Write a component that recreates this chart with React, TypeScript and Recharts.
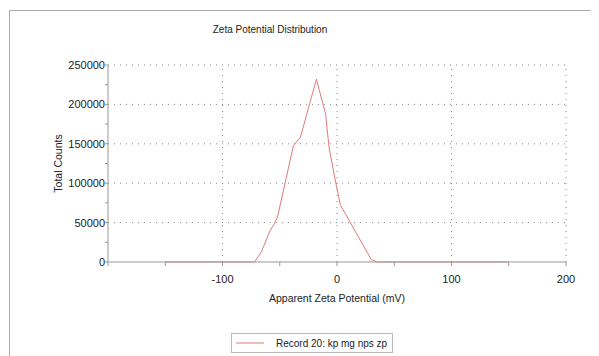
import { Legend, Line, LineChart, ReferenceLine, XAxis, YAxis } from 'recharts';

// apparent zeta potential (mV) and total counts
const potential = [-150, -72, -66, -59, -55, -52, -38, -32, -18, -10, -7, -1, 3, 7, 30, 35, 150];
const counts = [0, 0, 13000, 38000, 48000, 57000, 148000, 158000, 232000, 188000, 146000, 100000, 72000, 62000, 3000, 0, 0];

const xTicks = [-200, -150, -100, -50, 0, 50, 100, 150, 200];
const xLabelled = [-100, 0, 100, 200];
const yTicks = [0, 25000, 50000, 75000, 100000, 125000, 150000, 175000, 200000, 225000, 250000];
const yGrid = [50000, 100000, 150000, 200000, 250000];

const seriesName = 'Record 20: kp mg nps zp';

const data = potential.map((p, i) => ({ p, c: counts[i] }));

const font = 'Arial, "Liberation Sans", sans-serif';
const lineColor = '#e27a7a';
const axisColor = '#999';

const LegendBox = ({ payload }: any) => (
  <div
    style={{
      display: 'flex',
      alignItems: 'center',
      border: '1px solid #bbb',
      height: 18,
      width: 160,
      fontFamily: font,
      fontSize: 10,
      color: '#222',
      background: '#fff',
      whiteSpace: 'nowrap',
    }}
  >
    <svg width={44} height={10}>
      <line x1={4} y1={5} x2={32} y2={5} stroke={payload?.[0]?.color ?? lineColor} />
    </svg>
    <span>{payload?.[0]?.value}</span>
  </div>
);

export default function App() {
  return (
    <div style={{ position: 'relative', width: 591, height: 348, overflow: 'hidden', fontFamily: font }}>
      <div
        style={{
          position: 'absolute',
          left: 1,
          top: 2,
          width: 700,
          height: 500,
          border: '1px solid #aaa',
        }}
      />
      <div
        style={{
          position: 'absolute',
          left: 162,
          width: 200,
          top: 16,
          textAlign: 'center',
          fontSize: 10,
          color: '#222',
        }}
      >
        Zeta Potential Distribution
      </div>
      <LineChart
        width={591}
        height={348}
        data={data}
        margin={{ top: 57, right: 33, bottom: 54, left: 0 }}
        style={{ position: 'absolute', left: 0, top: 0 }}
      >
        {xLabelled.map((v) => (
          <ReferenceLine key={'x' + v} x={v} stroke="#888" strokeDasharray="1 5" />
        ))}
        {yGrid.map((v) => (
          <ReferenceLine key={'y' + v} y={v} stroke="#888" strokeDasharray="1 5" />
        ))}
        <XAxis
          dataKey="p"
          type="number"
          domain={[-200, 200]}
          ticks={xTicks}
          interval={0}
          tickFormatter={(v: number) => (xLabelled.includes(v) ? String(v) : '')}
          stroke={axisColor}
          tickSize={4}
          tickMargin={9}
          height={40}
          tick={{ fill: '#222', fontSize: 11, fontFamily: font }}
          label={{
            value: 'Apparent Zeta Potential (mV)',
            position: 'insideBottom',
            offset: 0,
            fill: '#222',
            fontSize: 10.5,
            fontFamily: font,
          }}
        />
        <YAxis
          type="number"
          domain={[0, 250000]}
          ticks={yTicks}
          interval={0}
          tickFormatter={(v: number) => (v % 50000 === 0 ? String(v) : '')}
          stroke={axisColor}
          tickSize={3}
          tickMargin={0}
          width={100}
          tick={{ fill: '#222', fontSize: 11, fontFamily: font }}
          label={{
            value: 'Total Counts',
            angle: -90,
            position: 'center',
            fill: '#222',
            fontSize: 10.5,
            fontFamily: font,
          }}
        />
        <Line
          dataKey="c"
          name={seriesName}
          stroke={lineColor}
          strokeWidth={1}
          dot={false}
          isAnimationActive={false}
          type="linear"
        />
        <Legend
          layout="horizontal"
          verticalAlign="middle"
          content={<LegendBox />}
          wrapperStyle={{ left: 223, top: 325, width: 162 }}
        />
      </LineChart>
    </div>
  );
}
